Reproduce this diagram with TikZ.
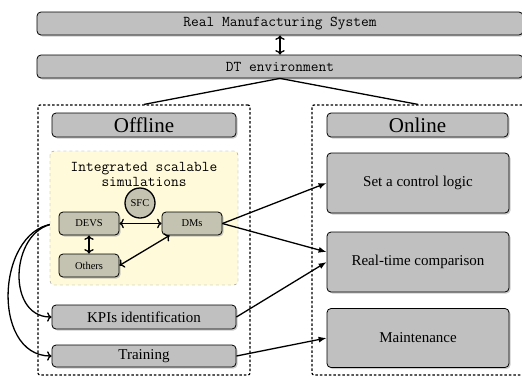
\documentclass[tikz,border=0pt]{standalone}
\usepackage{fontspec}
\setmainfont{Liberation Serif}
\usetikzlibrary{shadows,arrows.meta,backgrounds}

\definecolor{boxgrey}{RGB}{192,192,192}
\definecolor{simtan}{RGB}{196,194,176}
\definecolor{simyellow}{RGB}{255,250,218}

\tikzset{
	greybox/.style={draw, fill=boxgrey, rounded corners=4pt, line width=0.8pt, inner sep=0pt,
		drop shadow={shadow xshift=1.5pt, shadow yshift=-1.5pt, fill=black!40}},
	tanbox/.style={greybox, fill=simtan, minimum width=60pt, minimum height=23pt, font=\fontsize{10.5}{10.5}\selectfont},
	ttlabel/.style={font=\ttfamily\fontsize{15}{15}\selectfont},
	rmlabel/.style={font=\fontsize{15}{15}\selectfont},
	titlelabel/.style={font=\fontsize{21}{21}\selectfont},
	frame/.style={draw, line width=1.2pt, dash pattern=on 2.5pt off 2pt, rounded corners=2pt, inner sep=0pt},
	link/.style={line width=1.3pt},
}

\begin{document}
\begin{tikzpicture}[x=1pt, y=-1pt]
		%%%%% START %%%%%
		\clip (0,0) rectangle (522,376);
		\useasboundingbox (0,0) rectangle (522,376);
		
		% top level
		\node[greybox, ttlabel, minimum width=486pt, minimum height=23pt] (rms) at (280,23.5) {Real Manufacturing System};
		\node[greybox, ttlabel, minimum width=486pt, minimum height=23pt] (dt) at (280,66.5) {DT environment};
		\draw[link, <->] (rms.south) -- (dt.north);
		
		% the two halves
		\node[frame, minimum width=212pt, minimum height=270pt] (offframe) at (144,240) {};
		\node[frame, minimum width=212pt, minimum height=270pt] (onframe) at (418,240) {};
		\draw[link] (dt.south) -- (offframe.north);
		\draw[link] (dt.south) -- (onframe.north);
		
		\node[greybox, titlelabel, minimum width=184pt, minimum height=24pt] (offline) at (144,125) {Offline};
		\node[greybox, titlelabel, minimum width=181pt, minimum height=24pt] (online) at (417.5,125) {Online};
		
		% simulations
		\node[ttlabel, align=center] (simtitle) at (144,174) {Integrated scalable\\simulations};
		\node[tanbox] (devs) at (89,223.5) {DEVS};
		\node[tanbox] (dms) at (192,223.5) {DMs};
		\node[tanbox] (others) at (89,265.5) {Others};
		\node[circle, draw, line width=1.3pt, fill=simtan, minimum size=30pt, inner sep=0pt,
			font=\fontsize{10.5}{10.5}\selectfont] (sfc) at (140,203) {SFC};
		
		\draw[link, <->] (devs.east) -- (dms.west);
		\draw[link, <->] (devs.south) -- (others.north);
		\draw[link, <->] (others.east) -- ([xshift=8pt]dms.south west);
		
		% offline tasks
		\node[greybox, rmlabel, minimum width=184pt, minimum height=24pt] (kpi) at (144,317) {KPIs identification};
		\node[greybox, rmlabel, minimum width=184pt, minimum height=22pt] (training) at (144,356) {Training};
		
		\begin{scope}[on background layer]
			\draw[link, ->] (devs.west) to[out=180, in=180, looseness=1.3] (kpi.west);
			\draw[link, ->] (devs.west) to[out=180, in=180, looseness=1.2] (training.west);
			\draw[dashed, draw=black!45, fill=simyellow, rounded corners=4pt] (50,151) rectangle (238,285);
		\end{scope}
		
		% online tasks
		\node[greybox, rmlabel, minimum width=182pt, minimum height=60pt] (ctrl) at (418,183) {Set a control logic};
		\node[greybox, rmlabel, minimum width=182pt, minimum height=60pt] (rtc) at (418,262) {Real-time comparison};
		\node[greybox, rmlabel, minimum width=182pt, minimum height=59pt] (maint) at (418,338) {Maintenance};
		
		\draw[link, -{Latex[length=8pt, width=6pt]}] (dms.east) -- (ctrl.west);
		\draw[link, -{Latex[length=8pt, width=6pt]}] (dms.east) -- ([yshift=10pt]rtc.west);
		\draw[link, -{Latex[length=8pt, width=6pt]}] (kpi.east) -- (rtc.west);
		\draw[link, -{Latex[length=8pt, width=6pt]}] (training.east) -- (maint.west);
		
		%%%%% END %%%%%
	\end{tikzpicture}
\end{document}
